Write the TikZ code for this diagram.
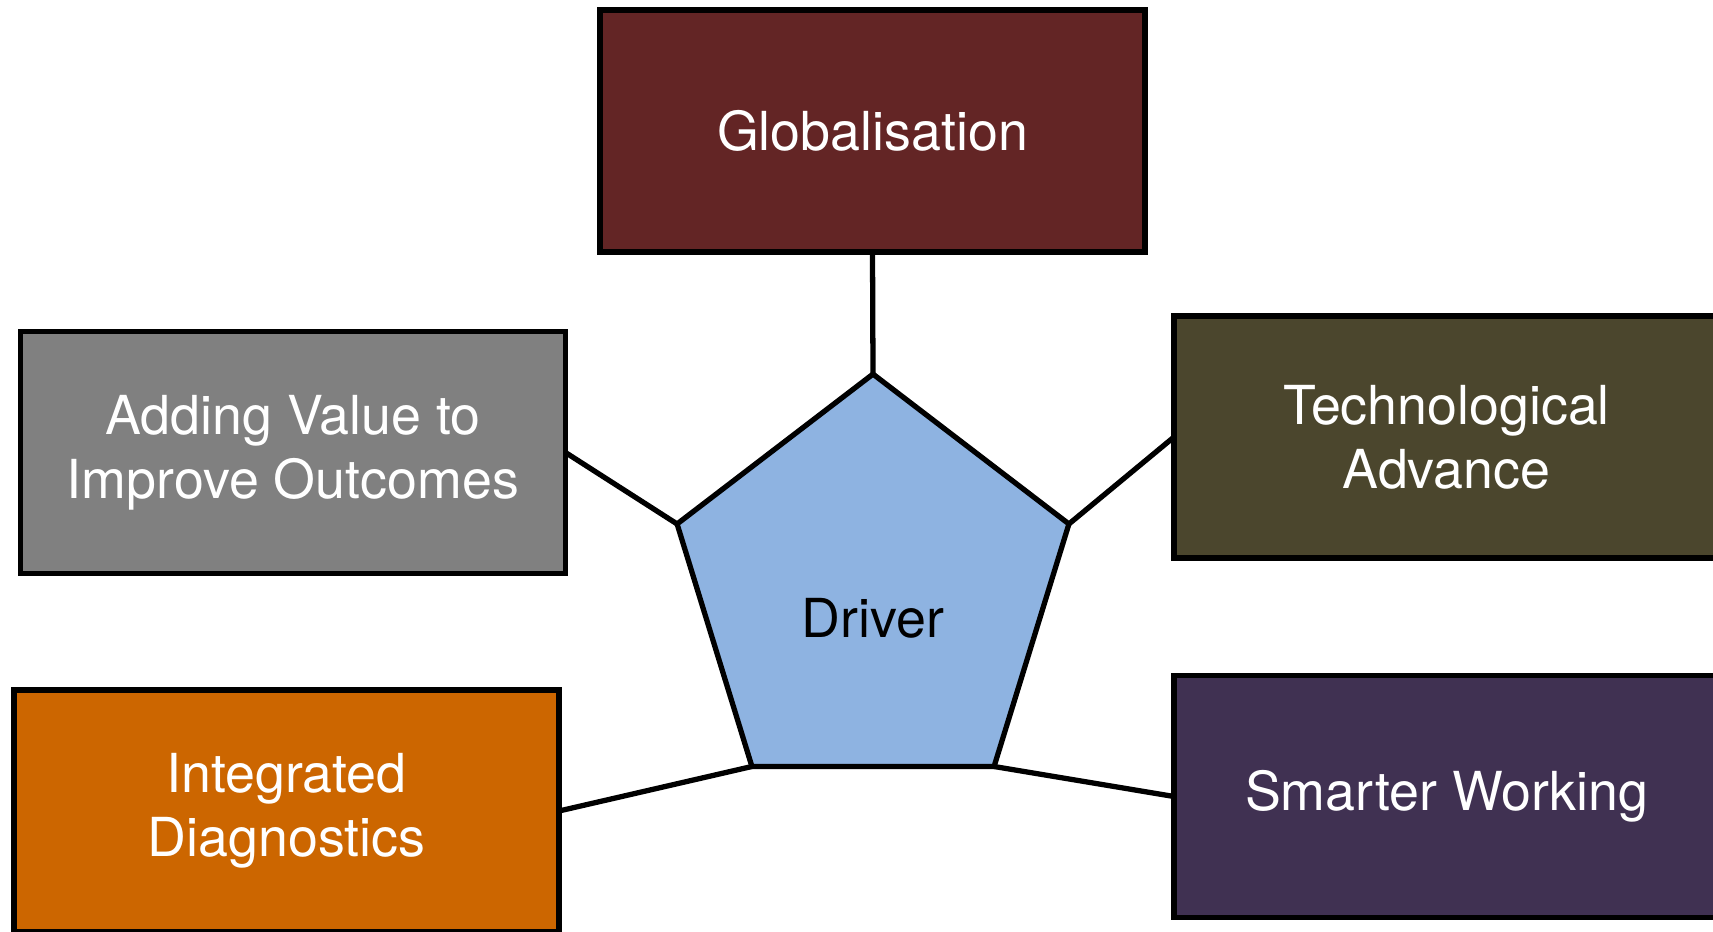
\documentclass[tikz,border=0pt]{standalone}
\usepackage{fontspec}
\setmainfont{TeX Gyre Heros}
\usepackage{tikz}
\usetikzlibrary{shapes.geometric}

\definecolor{globred}{HTML}{632525}
\definecolor{valgrey}{HTML}{808080}
\definecolor{diagorange}{HTML}{CC6600}
\definecolor{techolive}{HTML}{4B462D}
\definecolor{smartpurple}{HTML}{403152}
\definecolor{driverblue}{HTML}{8EB3E1}

\tikzset{
	drvbox/.style={draw=black, line width=1.5pt, minimum width=5.45cm, minimum height=2.42cm, text=white, align=center, font=\fontsize{15.3}{18.3}\selectfont, outer sep=0pt},
	drvline/.style={line width=1.5pt}
}

\begin{document}
\begin{tikzpicture}
				\begin{scope}[x=0.1mm, y=-0.1mm]
					
					\useasboundingbox (0,0) rectangle (1713,932);
					
					\node[draw=black, line width=1.5pt, fill=driverblue, regular polygon, regular polygon sides=5, minimum size=4.12cm, yscale=1.053, transform shape, outer sep=0pt] (drv) at (873,591) {};
					\node[font=\fontsize{15.3}{18}\selectfont] (drvtext) at (873,618) {Driver};
					
					\node[drvbox, fill=globred] (glob) at (872.5,131) {Globalisation};
					\node[drvbox, fill=valgrey] (addv) at (293,452.5) {Adding Value to\\Improve Outcomes};
					\node[drvbox, fill=diagorange] (integ) at (286.5,811) {Integrated\\Diagnostics};
					\node[drvbox, fill=techolive] (tech) at (1446.5,437) {Technological\\Advance};
					\node[drvbox, fill=smartpurple] (smart) at (1446.5,796.5) {Smarter Working};
					
					
					\draw[drvline] (glob.south)--(drv.corner 1);
					
					\draw[drvline] (addv.east)--(drv.corner 2);
					
					\draw[drvline] (integ.east)--(drv.corner 3);
					
					\draw[drvline] (smart.west)--(drv.corner 4);
					
					\draw[drvline] (tech.west)--(drv.corner 5);
					
				\end{scope}
			\end{tikzpicture}
\end{document}
